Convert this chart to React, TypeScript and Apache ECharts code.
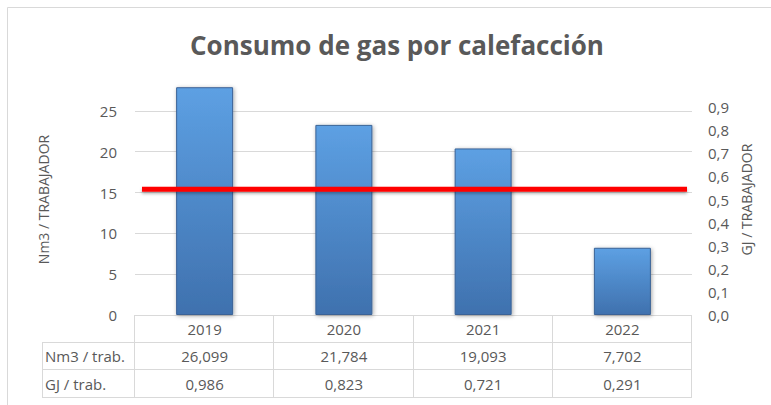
import { useEffect, useRef } from "react";
import * as echarts from "echarts";

const chartTitle = "Consumo de gas por calefacción";
const years = ["2019", "2020", "2021", "2022"];
const nm3PerWorker = [26.099, 21.784, 19.093, 7.702];
const gjPerWorker = [0.986, 0.823, 0.721, 0.291];
const referenceNm3 = 15.4;
const rowLabels = ["Nm3 / trab.", "GJ / trab."];
const leftAxisName = "Nm3 / TRABAJADOR";
const rightAxisName = "GJ / TRABAJADOR";

const W = 771;
const H = 405;
const GRID = { left: 135, right: 79, top: 84, bottom: 90 };
const LEFT_MAX = 28.3;
const TEXT = "#595959";
const LINE = "#d9d9d9";
const FONT = '"Open Sans", "Noto Sans", sans-serif';

const fmt = (v: number, d: number) => v.toFixed(d).replace(".", ",");

export default function App() {
  const ref = useRef<HTMLDivElement>(null);

  useEffect(() => {
    if (!ref.current) return;
    const chart = echarts.init(ref.current, undefined, { renderer: "svg", width: W, height: H });

    chart.setOption({
      animation: false,
      backgroundColor: "#ffffff",
      title: {
        text: chartTitle,
        left: 392,
        textAlign: "center",
        top: 27,
        textStyle: { color: TEXT, fontSize: 26, fontWeight: "bold", fontFamily: FONT },
      },
      grid: { ...GRID, containLabel: false },
      xAxis: {
        type: "category",
        data: years,
        axisLine: { show: false },
        axisTick: { show: false },
        axisLabel: { color: TEXT, fontSize: 15, fontFamily: FONT, margin: 6 },
        splitLine: { show: false },
      },
      yAxis: [
        {
          type: "value",
          min: 0,
          max: LEFT_MAX,
          interval: 5,
          name: leftAxisName,
          nameLocation: "middle",
          nameRotate: 90,
          nameGap: 85,
          nameTextStyle: { color: TEXT, fontSize: 14, fontFamily: FONT },
          axisLine: { show: false },
          axisTick: { show: false },
          axisLabel: { color: TEXT, fontSize: 15, fontFamily: FONT, margin: 18, showMaxLabel: false },
          splitLine: { show: true, showMaxLine: false, lineStyle: { color: LINE, width: 1 } },
        },
        {
          type: "value",
          min: 0,
          max: 1.0,
          interval: 0.1,
          position: "right",
          name: rightAxisName,
          nameLocation: "middle",
          nameRotate: 90,
          nameGap: 47,
          nameTextStyle: { color: TEXT, fontSize: 14, fontFamily: FONT },
          axisLine: { show: false },
          axisTick: { show: false },
          axisLabel: {
            color: TEXT,
            fontSize: 15,
            fontFamily: FONT,
            margin: 16,
            showMaxLabel: false,
            formatter: (v: number) => fmt(v, 1),
          },
          splitLine: { show: false },
        },
      ],
      series: [
        {
          name: "GJ / trab.",
          type: "bar",
          yAxisIndex: 1,
          data: gjPerWorker,
          barWidth: 57,
          z: 2,
          itemStyle: {
            color: new echarts.graphic.LinearGradient(0, 0, 0, 1, [
              { offset: 0, color: "#5da0e3" },
              { offset: 1, color: "#3f71ae" },
            ]),
            borderColor: "#3a6296",
            borderWidth: 1,
            shadowColor: "rgba(0,0,0,0.35)",
            shadowBlur: 4,
            shadowOffsetX: 1,
            shadowOffsetY: 1,
          },
        },
      ],
    });

    const plotLeft = GRID.left;
    const plotRight = W - GRID.right;
    const plotBottom = H - GRID.bottom;
    const colW = (plotRight - plotLeft) / years.length;
    const labelColLeft = 42;
    const rowEdges = [plotBottom, 342, 369, 397];

    const graphics: any[] = [];
    graphics.push({
      type: "rect",
      silent: true,
      shape: { x: 7.5, y: 7.5, width: 820, height: 430 },
      style: { fill: "none", stroke: LINE, lineWidth: 1 },
    });
    rowEdges.forEach((y, i) => {
      graphics.push({
        type: "line",
        silent: true,
        shape: { x1: i === 0 ? plotLeft : labelColLeft, y1: y + 0.5, x2: plotRight, y2: y + 0.5 },
        style: { stroke: LINE, lineWidth: 1 },
      });
    });
    graphics.push({
      type: "line",
      silent: true,
      shape: { x1: labelColLeft + 0.5, y1: rowEdges[1], x2: labelColLeft + 0.5, y2: rowEdges[3] },
      style: { stroke: LINE, lineWidth: 1 },
    });
    for (let i = 0; i <= years.length; i++) {
      const x = Math.round(plotLeft + i * colW) - 0.5;
      graphics.push({
        type: "line",
        silent: true,
        shape: { x1: x, y1: rowEdges[0], x2: x, y2: rowEdges[3] },
        style: { stroke: LINE, lineWidth: 1 },
      });
    }
    const rows = [nm3PerWorker.map((v) => fmt(v, 3)), gjPerWorker.map((v) => fmt(v, 3))];
    rows.forEach((vals, r) => {
      const cy = (rowEdges[r + 1] + rowEdges[r + 2]) / 2 + 0.5;
      graphics.push({
        type: "text",
        silent: true,
        x: labelColLeft + 3,
        y: cy,
        style: { text: rowLabels[r], fill: TEXT, fontSize: 15, fontFamily: FONT, align: "left", verticalAlign: "middle" },
      });
      vals.forEach((t, c) => {
        graphics.push({
          type: "text",
          silent: true,
          x: plotLeft + colW * (c + 0.5),
          y: cy,
          style: { text: t, fill: TEXT, fontSize: 15, fontFamily: FONT, align: "center", verticalAlign: "middle" },
        });
      });
    });

    // reference line, positioned through the left value axis
    let refY = NaN;
    try {
      const p: any = chart.convertToPixel({ xAxisIndex: 0, yAxisIndex: 0 } as any, [0, referenceNm3]);
      refY = Array.isArray(p) ? Number(p[1]) : Number(p);
    } catch (e) {
      refY = NaN;
    }
    if (!isFinite(refY)) {
      refY = plotBottom - (referenceNm3 / LEFT_MAX) * (plotBottom - GRID.top);
    }
    graphics.push({
      type: "rect",
      silent: true,
      z: 100,
      shape: { x: plotLeft + 7, y: refY - 2.5, width: plotRight - plotLeft - 12, height: 5 },
      style: {
        fill: "#ff0000",
        shadowColor: "rgba(0,0,0,0.3)",
        shadowBlur: 3,
        shadowOffsetY: 2,
      },
    });

    chart.setOption({ graphic: graphics });

    return () => chart.dispose();
  }, []);

  return <div ref={ref} style={{ position: "fixed", left: 0, top: 0, width: W, height: H }} />;
}
